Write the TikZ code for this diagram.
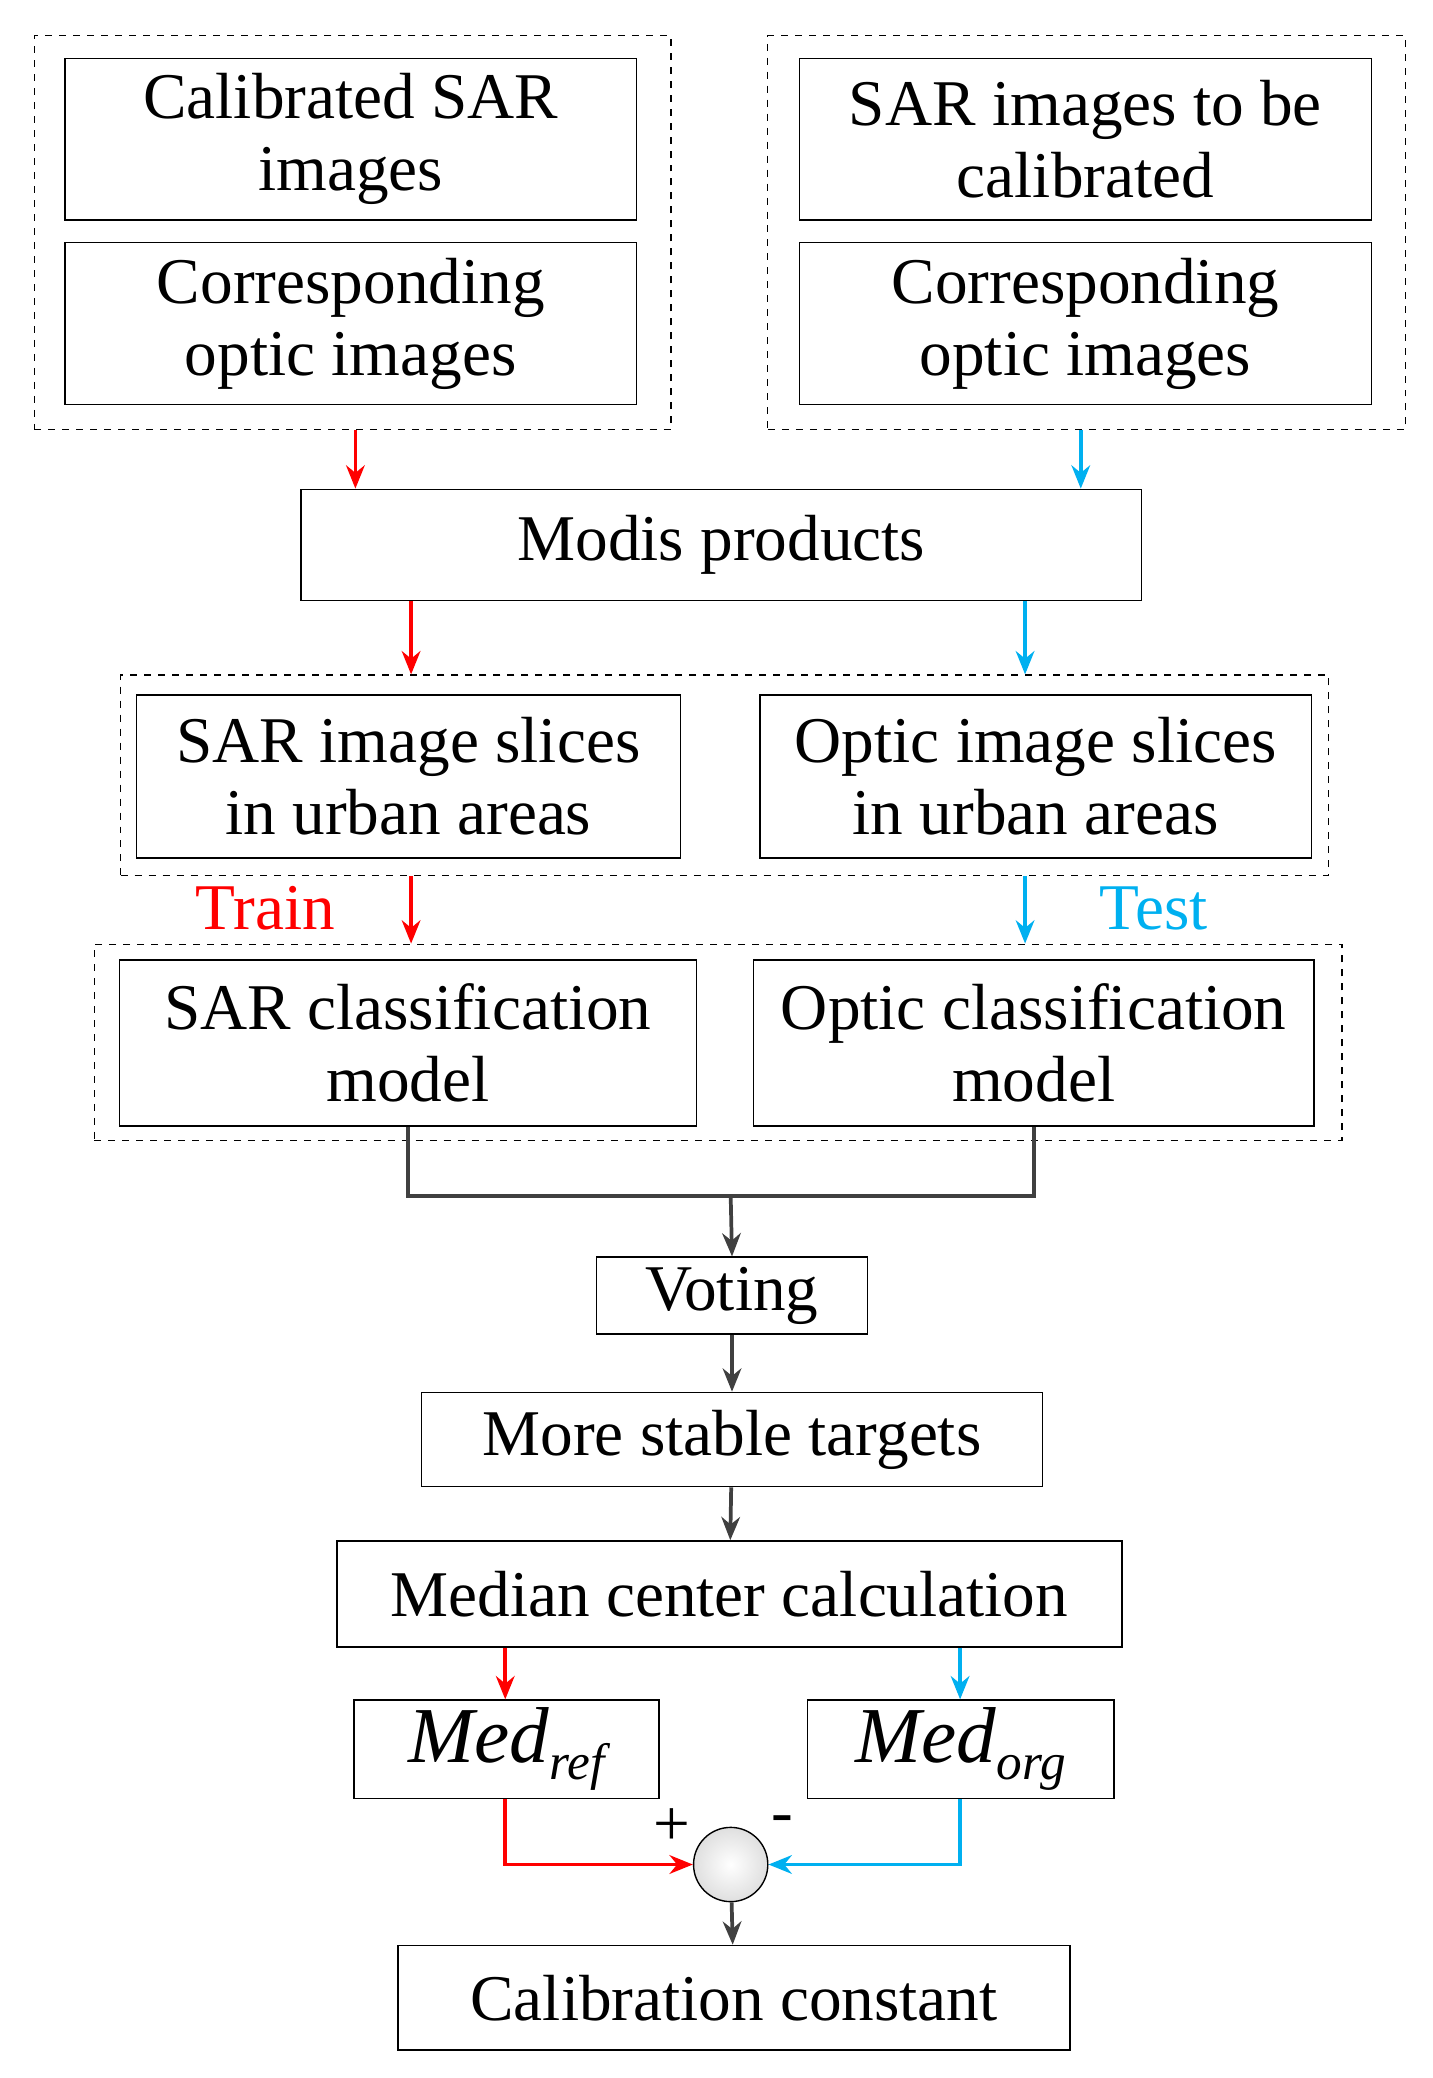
\documentclass[tikz,border=0pt]{standalone}
\usepackage{fontspec}
\setmainfont{Liberation Serif}
\usetikzlibrary{arrows.meta}
\definecolor{sky}{RGB}{0,176,240}
\definecolor{dk}{RGB}{64,64,64}
\newcommand\bx[7][box]{\node[#1,minimum width={(#5-#3)*0.02cm},minimum height={(#6-#4)*0.02cm}] (#2) at ({(#3+#5)/2},{(#4+#6)/2}) {#7};}
\begin{document}
\begin{tikzpicture}[x=0.02cm,y=-0.02cm,
  box/.style={draw,line width=0.6pt,inner sep=0pt,align=center,font=\fontsize{28}{31}\selectfont},
  grp/.style={draw,dashed,line width=0.5pt,inner sep=0pt},
  arr/.style={line width=1.6pt,-{Stealth[length=10pt,width=8pt]}},
  lbl/.style={font=\fontsize{28}{31}\selectfont}]
\useasboundingbox (0,0) rectangle (1080,1567);
\bx[grp]{g1}{26}{27}{506}{324}{}
\bx[grp]{g2}{579}{27}{1060}{324}{}
\bx[grp]{g3}{91}{509}{1002}{660}{}
\bx[grp]{g4}{71}{712}{1012}{860}{}
\bx{a1}{49}{44}{480}{166}{Calibrated SAR\\images}
\bx{a2}{49}{183}{480}{305}{Corresponding\\optic images}
\bx{b1}{603}{44}{1034}{166}{SAR images to be\\calibrated}
\bx{b2}{603}{183}{1034}{305}{Corresponding\\optic images}
\bx{modis}{227}{369}{861}{453}{Modis products}
\bx{c1}{103}{524}{513}{647}{SAR image slices\\in urban areas}
\bx{c2}{573}{524}{989}{647}{Optic image slices\\in urban areas}
\bx{d1}{90}{724}{525}{849}{SAR classification\\model}
\bx{d2}{568}{724}{991}{849}{Optic classification\\model}
\bx{vote}{450}{948}{654}{1006}{Voting}
\bx{stable}{318}{1050}{786}{1121}{More stable targets}
\bx{median}{254}{1162}{846}{1242}{Median center calculation}
\bx{mref}{267}{1282}{497}{1356}{\fontsize{34}{34}\selectfont\itshape Med\raisebox{-0.45ex}{\fontsize{22}{22}\selectfont ref}}
\bx{morg}{609}{1282}{840}{1356}{\fontsize{34}{34}\selectfont\itshape Med\raisebox{-0.45ex}{\fontsize{22}{22}\selectfont org}}
\bx{calib}{300}{1467}{807}{1546}{Calibration constant}
\node[draw,circle,minimum size=56*0.02cm,inner sep=0pt,line width=0.6pt,
  shading=radial,inner color=white,outer color=gray!25] (sum) at (551,1406) {};
\node[lbl,red] at (200,685) {Train};
\node[lbl,sky] at (870,685) {Test};
\node[lbl] at (507,1378) {+};
\node[lbl] at (590,1376) {-};
\coordinate (x1) at (268,0); \coordinate (x2) at (815,0);
\coordinate (x3) at (310,0); \coordinate (x4) at (773,0);
\coordinate (x5) at (381,0); \coordinate (x6) at (724,0);
\coordinate (j) at (551,902);
\draw[arr,red] (g1.south -| x1) -- (modis.north -| x1);
\draw[arr,sky] (g2.south -| x2) -- (modis.north -| x2);
\draw[arr,red] (modis.south -| x3) -- (g3.north -| x3);
\draw[arr,sky] (modis.south -| x4) -- (g3.north -| x4);
\draw[arr,red] (g3.south -| x3) -- (g4.north -| x3);
\draw[arr,sky] (g3.south -| x4) -- (g4.north -| x4);
\draw[dk,line width=1.6pt] (d1.south) -- (d1.south |- j) -- (d2.south |- j) -- (d2.south);
\draw[arr,dk] (j) -- (vote.north);
\draw[arr,dk] (vote) -- (stable);
\draw[arr,dk] (stable) -- (median);
\draw[arr,red] (median.south -| x5) -- (mref.north -| x5);
\draw[arr,sky] (median.south -| x6) -- (morg.north -| x6);
\draw[arr,red] (mref.south -| x5) |- (sum.west);
\draw[arr,sky] (morg.south -| x6) |- (sum.east);
\draw[arr,dk] (sum) -- (calib);
\end{tikzpicture}
\end{document}
